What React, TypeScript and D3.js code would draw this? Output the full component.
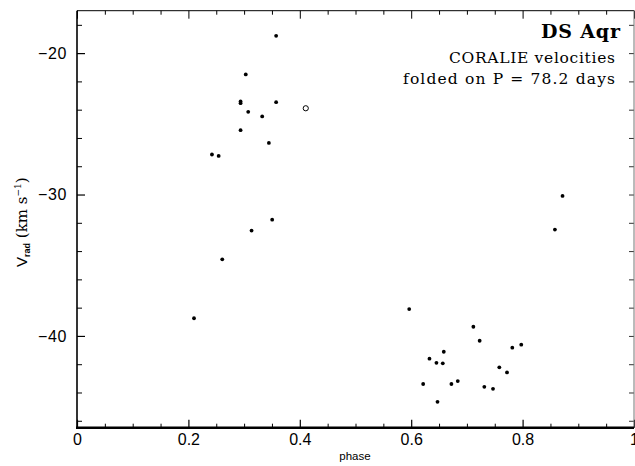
import { useEffect, useRef } from 'react';
import * as d3 from 'd3';

// phase / radial velocity (km/s)
const phases = [
  0.3575, 0.303, 0.2937, 0.2937, 0.3575, 0.3074, 0.3325, 0.2937, 0.3445, 0.2423,
  0.2543, 0.3504, 0.3134, 0.2608, 0.2101, 0.8717, 0.858, 0.5964, 0.7116, 0.7229,
  0.7976, 0.7815, 0.6585, 0.6328, 0.6453, 0.6567, 0.7582, 0.772, 0.6836, 0.6215,
  0.6722, 0.7313, 0.7469, 0.6472
];
const velocities = [
  -18.78, -21.51, -23.42, -23.54, -23.47, -24.15, -24.48, -25.45, -26.35, -27.17,
  -27.27, -31.78, -32.55, -34.58, -38.75, -30.1, -32.48, -38.1, -39.35, -40.34,
  -40.62, -40.83, -41.12, -41.61, -41.9, -41.94, -42.22, -42.58, -43.19, -43.4,
  -43.4, -43.6, -43.74, -44.66
];
// the one open-circle point
const openPhases = [0.4107];
const openVelocities = [-23.9];

const xMajorTicks = [0, 0.2, 0.4, 0.6, 0.8, 1];
const yMajorTicks = [-20, -30, -40];
const titleLines = ['CORALIE velocities', 'folded on P = 78.2 days'];

export default function App() {
  const svgRef = useRef<SVGSVGElement>(null);

  useEffect(() => {
    if (!svgRef.current) return;
    const width = 635;
    const height = 466;
    const svg = d3.select(svgRef.current);
    svg.selectAll('*').remove();

    const left = 77, right = 634, top = 10.7, bottom = 427.7;

    const x = d3.scaleLinear().domain([0, 1]).range([left, right]);
    const y = d3.scaleLinear().domain([-46.49, -17]).range([bottom, top]);

    const xMinor = d3.range(0, 1.0001, 0.05).filter(v => Math.abs(v / 0.2 - Math.round(v / 0.2)) > 1e-6);
    const yMinor = d3.range(-46, -17, 2).filter(v => v % 10 !== 0);

    const sans = '"Liberation Sans", Arial, sans-serif';
    const serif = '"DejaVu Serif", serif';

    // bottom axis (labels + major ticks)
    const gb = svg.append('g')
      .attr('transform', `translate(0,${bottom})`)
      .call(d3.axisBottom(x).tickValues(xMajorTicks).tickSize(-8).tickPadding(6)
        .tickFormat(d => (d === 0 || d === 1) ? String(d) : (d as number).toFixed(1)));
    gb.select('.domain').remove();
    gb.selectAll('text').attr('font-family', sans).attr('font-size', '16px').attr('fill', '#000');
    gb.selectAll('line').attr('stroke', '#000').attr('stroke-width', 1.2);

    svg.append('g')
      .attr('transform', `translate(0,${bottom})`)
      .call(d3.axisBottom(x).tickValues(xMinor).tickSize(-4).tickFormat(() => ''))
      .call(g => g.select('.domain').remove())
      .selectAll('line').attr('stroke', '#000');

    // top axis ticks
    svg.append('g')
      .attr('transform', `translate(0,${top})`)
      .call(d3.axisTop(x).tickValues(xMajorTicks).tickSize(-8).tickFormat(() => ''))
      .call(g => g.select('.domain').remove())
      .selectAll('line').attr('stroke', '#000');
    svg.append('g')
      .attr('transform', `translate(0,${top})`)
      .call(d3.axisTop(x).tickValues(xMinor).tickSize(-4).tickFormat(() => ''))
      .call(g => g.select('.domain').remove())
      .selectAll('line').attr('stroke', '#000');

    // left axis
    const gl = svg.append('g')
      .attr('transform', `translate(${left},0)`)
      .call(d3.axisLeft(y).tickValues(yMajorTicks).tickSize(-8).tickPadding(10));
    gl.select('.domain').remove();
    gl.selectAll('text').attr('font-family', sans).attr('font-size', '16px')
      .attr('letter-spacing', '0.6px').attr('fill', '#000');
    gl.selectAll('line').attr('stroke', '#000').attr('stroke-width', 1.2);

    svg.append('g')
      .attr('transform', `translate(${left},0)`)
      .call(d3.axisLeft(y).tickValues(yMinor).tickSize(-5).tickFormat(() => ''))
      .call(g => g.select('.domain').remove())
      .selectAll('line').attr('stroke', '#000');

    // right axis ticks
    svg.append('g')
      .attr('transform', `translate(${right},0)`)
      .call(d3.axisRight(y).tickValues([...yMajorTicks, ...yMinor]).tickSize(-5).tickFormat(() => ''))
      .call(g => g.select('.domain').remove())
      .selectAll('line').attr('stroke', '#333');

    // frame
    svg.append('line').attr('x1', left).attr('x2', right).attr('y1', top).attr('y2', top)
      .attr('stroke', '#000').attr('stroke-width', 1);
    svg.append('line').attr('x1', right).attr('x2', right).attr('y1', top).attr('y2', bottom)
      .attr('stroke', '#777').attr('stroke-width', 1);
    svg.append('line').attr('x1', left).attr('x2', left).attr('y1', top).attr('y2', bottom + 1)
      .attr('stroke', '#000').attr('stroke-width', 1.6);
    svg.append('line').attr('x1', left - 1).attr('x2', right).attr('y1', bottom).attr('y2', bottom)
      .attr('stroke', '#000').attr('stroke-width', 2.5);

    // filled points
    const pts = phases.map((p, i) => ({ p, v: velocities[i] }));
    svg.append('g').selectAll('circle')
      .data(pts)
      .enter()
      .append('circle')
      .attr('cx', d => x(d.p))
      .attr('cy', d => y(d.v))
      .attr('r', 1.9)
      .attr('fill', '#000');

    // open point
    const opts = openPhases.map((p, i) => ({ p, v: openVelocities[i] }));
    svg.append('g').selectAll('circle')
      .data(opts)
      .enter()
      .append('circle')
      .attr('cx', d => x(d.p))
      .attr('cy', d => y(d.v))
      .attr('r', 2.6)
      .attr('fill', 'none')
      .attr('stroke', '#000')
      .attr('stroke-width', 1);

    // annotation
    svg.append('text')
      .attr('x', 620).attr('y', 38)
      .attr('text-anchor', 'end')
      .attr('font-family', serif)
      .attr('font-weight', 'bold')
      .attr('font-size', '19px')
      .attr('textLength', 79)
      .attr('fill', '#000')
      .text('DS Aqr');
    titleLines.forEach((t, i) => {
      svg.append('text')
        .attr('x', 615).attr('y', 63 + i * 20.5)
        .attr('text-anchor', 'end')
        .attr('font-family', serif)
        .attr('font-size', '15.5px')
        .attr('textLength', i === 0 ? 166 : 212)
        .attr('fill', '#000')
        .text(t);
    });

    // x label
    svg.append('text')
      .attr('x', 355).attr('y', 460)
      .attr('text-anchor', 'middle')
      .attr('font-family', sans)
      .attr('font-size', '11.5px')
      .attr('fill', '#000')
      .text('phase');

    // y label
    const yl = svg.append('text')
      .attr('transform', `translate(27,${(top + bottom) / 2 + 3}) rotate(-90)`)
      .attr('text-anchor', 'middle')
      .attr('fill', '#000');
    yl.append('tspan').attr('font-family', sans).attr('font-size', '15px').text('V');
    yl.append('tspan').attr('font-family', sans).attr('font-weight', 'bold').attr('font-size', '9px')
      .attr('dy', 3).text('rad');
    yl.append('tspan').attr('font-family', serif).attr('font-size', '15px').attr('dy', -3).text(' (km s');
    yl.append('tspan').attr('font-family', serif).attr('font-size', '9px').attr('dy', -6).text('−1');
    yl.append('tspan').attr('font-family', serif).attr('font-size', '15px').attr('dy', 6).text(')');

    svg.attr('width', width).attr('height', height);
  }, []);

  return (
    <svg
      ref={svgRef}
      width={635}
      height={466}
      style={{ position: 'absolute', left: 0, top: 0, background: '#fff' }}
    />
  );
}
